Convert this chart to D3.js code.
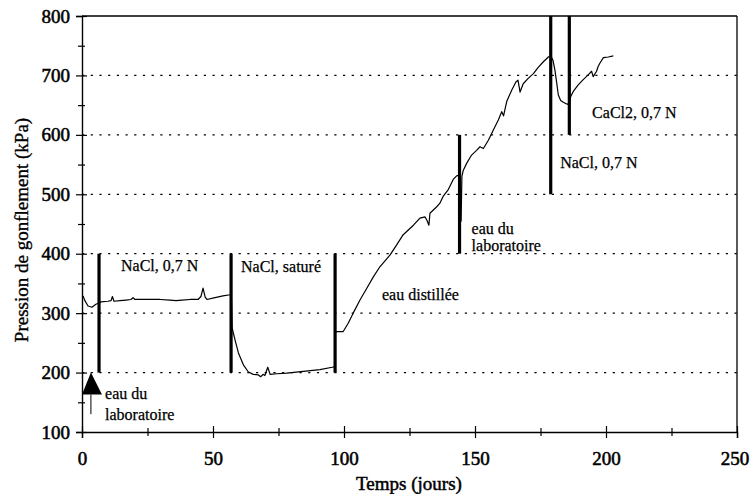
<!DOCTYPE html>
<html>
<head>
<meta charset="utf-8">
<script src="https://cdn.jsdelivr.net/npm/d3@7"></script>
<style>
  html, body { margin: 0; padding: 0; background: #fff; }
  svg { display: block; }
  text { font-family: "Liberation Serif", "DejaVu Serif", serif; fill: #000; }
</style>
</head>
<body>
<svg id="chart" width="750" height="494"></svg>
<script>
// Swelling pressure record (days, kPa), one array per test phase
const phaseA_days = [0.4, 1.1, 2.3, 3.8, 5.3, 6.5];
const phaseA_kpa  = [329, 321, 312, 310, 315, 317];

const phaseB_days = [6.6, 7.3, 9.9, 11.1, 11.6, 12.2, 14.5, 16.8, 18.7, 19.5, 20.2, 24, 29.8, 33.6, 35.9, 38.2, 41.2, 44.3, 45.4, 46.2, 47, 47.7, 50.8, 53.8, 56.5, 57];
const phaseB_kpa  = [317, 319, 320, 321, 328, 320, 321, 322, 323, 326, 323, 323, 323, 322, 321, 322, 323, 323, 328, 342, 327, 323, 326, 329, 331, 332];

const phaseC_days = [57, 57.3, 58.4, 59.7, 61.6, 63.5, 65.4, 67.3, 68.2, 69.1, 69.8, 70.9, 71.8, 74.3, 78.1, 84.5, 90.8, 95.5, 96.5];
const phaseC_kpa  = [332, 275, 255, 233, 213, 201, 197, 196, 193, 197, 195, 209, 197, 198, 199, 202, 205, 209, 210];

const phaseD_days = [96.6, 97.2, 99.7, 101.6, 103.5, 106.1, 108.7, 111.2, 113.7, 117.6, 120.1, 122.6, 126.5, 129, 130.9, 131.7, 132.4, 132.8, 135.4, 136.6, 137.9, 139.8, 141.7, 143, 143.7];
const phaseD_kpa  = [268, 269, 269, 283, 300, 322, 342, 361, 378, 398, 415, 432, 448, 460, 462, 456, 448, 468, 479, 485, 497, 508, 525, 531, 532];

const phaseE_days = [144.2, 144.7, 145, 145.5, 146.8, 148.7, 150.6, 151.9, 153.2, 155.1, 157, 158.9, 160.2, 160.9, 162.1, 164, 165.6, 166.4, 167.2, 168.4, 170.3, 172.3, 174.2, 176.1, 178, 178.8];
const phaseE_kpa  = [532, 455, 530, 540, 552, 566, 574, 580, 577, 591, 608, 625, 639, 632, 656, 675, 689, 692, 672, 686, 695, 703, 714, 723, 731, 733];

const phaseF_days = [178.9, 179.8, 180.5, 181.2, 181.8, 182.7, 183.7, 185, 185.9];
const phaseF_kpa  = [733, 725, 709, 687, 667, 658, 655, 652, 651];

const phaseG_days = [186, 186.5, 187.5, 189.4, 191.3, 193.2, 194.5, 195.1, 196.4, 197, 197.7, 199, 200.9, 202.8];
const phaseG_kpa  = [651, 664, 673, 684, 693, 701, 707, 698, 707, 715, 721, 730, 731, 733];

// Fluid change markers: day and vertical extent (kPa)
const changeDays = [6.5, 56.9, 96.6, 144.1, 178.9, 186];
const changeLow  = [200, 200, 200, 400, 500, 600];
const changeHigh = [400, 400, 400, 600, 800, 800];

// Phase labels
const labelText  = ["NaCl, 0,7 N", "NaCl, saturé", "eau distillée", "eau du", "laboratoire", "NaCl, 0,7 N", "CaCl2, 0,7 N", "eau du", "laboratoire"];
const labelDay   = [14.9, 60.7, 114.5, 148.7, 148.7, 182.5, 194.7, 8.8, 8.8];
const labelKpa   = [371, 369, 322, 434, 405, 544, 629, 156, 121];

// Axis ticks
const xTicks = [0, 50, 100, 150, 200, 250];
const xMinorTicks = [25, 75, 125, 175, 225];
const yTicks = [100, 200, 300, 400, 500, 600, 700, 800];
const yMinorTicks = [150, 250, 350, 450, 550, 650, 750];
const gridValues = [200, 300, 400, 500, 600, 700];

const svg = d3.select("#chart");
const x = d3.scaleLinear().domain([0, 250]).range([82, 737]);
const y = d3.scaleLinear().domain([100, 800]).range([432, 16]);

// Dotted horizontal guides
svg.append("g").selectAll("line").data(gridValues).join("line")
  .attr("x1", x(0)).attr("x2", x(250))
  .attr("y1", d => y(d)).attr("y2", d => y(d))
  .attr("stroke", "#000").attr("stroke-width", 1.2)
  .attr("stroke-dasharray", "2.2,6.5");

// Frame: top and right edges
svg.append("line").attr("x1", x(0)).attr("x2", x(250)).attr("y1", y(800)).attr("y2", y(800))
  .attr("stroke", "#000").attr("stroke-width", 1.3);
svg.append("line").attr("x1", x(250)).attr("x2", x(250)).attr("y1", y(800)).attr("y2", y(100))
  .attr("stroke", "#000").attr("stroke-width", 1.3);

// Axes with crossing ticks
const tickStyle = g => {
  g.select(".domain").attr("stroke-width", 1.4);
  g.selectAll(".tick line").attr("stroke-width", 1.2);
  g.selectAll("text").style("font-family", "'Liberation Serif', serif")
    .style("font-size", "19px").attr("stroke", "#000").attr("stroke-width", 0.55);
};

const xAxis = svg.append("g").attr("transform", `translate(0,${y(100)})`)
  .call(d3.axisBottom(x).tickValues(xTicks).tickSize(6).tickPadding(14).tickFormat(d3.format("d")));
xAxis.selectAll(".tick line").attr("y1", -6);
xAxis.call(tickStyle);
// keep the last label inside the page
xAxis.selectAll(".tick text").filter(d => d === 250).attr("dx", -2.5);
svg.append("g").attr("transform", `translate(0,${y(100)})`)
  .call(d3.axisBottom(x).tickValues(xMinorTicks).tickSize(4).tickFormat(""))
  .call(g => g.select(".domain").remove())
  .call(g => g.selectAll(".tick line").attr("y1", -4).attr("stroke-width", 1.2));

const yAxis = svg.append("g").attr("transform", `translate(${x(0)},0)`)
  .call(d3.axisLeft(y).tickValues(yTicks).tickSize(6).tickPadding(6).tickFormat(d3.format("d")));
yAxis.selectAll(".tick line").attr("x1", 5);
yAxis.call(tickStyle);
svg.append("g").attr("transform", `translate(${x(0)},0)`)
  .call(d3.axisLeft(y).tickValues(yMinorTicks).tickSize(4).tickFormat(""))
  .call(g => g.select(".domain").remove())
  .call(g => g.selectAll(".tick line").attr("x1", 3).attr("stroke-width", 1.2));

// Axis titles
svg.append("text").attr("x", 409).attr("y", 490).attr("text-anchor", "middle")
  .style("font-size", "19px").attr("stroke", "#000").attr("stroke-width", 0.5)
  .text("Temps (jours)");
svg.append("text").attr("transform", `translate(28,${(y(100) + y(800)) / 2 + 6}) rotate(-90)`)
  .attr("text-anchor", "middle")
  .style("font-size", "19px").attr("stroke", "#000").attr("stroke-width", 0.35)
  .text("Pression de gonflement (kPa)");

// Pressure curve, drawn phase by phase
const phases = [
  [phaseA_days, phaseA_kpa], [phaseB_days, phaseB_kpa], [phaseC_days, phaseC_kpa],
  [phaseD_days, phaseD_kpa], [phaseE_days, phaseE_kpa], [phaseF_days, phaseF_kpa],
  [phaseG_days, phaseG_kpa]
];
const line = d3.line().x(d => x(d[0])).y(d => y(d[1])).curve(d3.curveLinear);
svg.append("g").selectAll("path").data(phases).join("path")
  .attr("d", p => line(p[0].map((t, i) => [t, p[1][i]])))
  .attr("fill", "none").attr("stroke", "#000").attr("stroke-width", 1.2)
  .attr("stroke-linejoin", "round");

// Thick markers where the pore fluid was changed
svg.append("g").selectAll("line").data(changeDays).join("line")
  .attr("x1", d => x(d)).attr("x2", d => x(d))
  .attr("y1", (d, i) => y(changeHigh[i])).attr("y2", (d, i) => y(changeLow[i]))
  .attr("stroke", "#000").attr("stroke-width", 3.2);

// Arrow at the start of the test
const arrowDay = 3.4;
svg.append("path")
  .attr("d", `M${x(arrowDay)},${y(200)} L${x(7.6)},${y(163)} L${x(0)},${y(163)} Z`)
  .attr("fill", "#000");
svg.append("line").attr("x1", x(arrowDay)).attr("x2", x(arrowDay))
  .attr("y1", y(163)).attr("y2", y(130)).attr("stroke", "#000").attr("stroke-width", 1);

// Phase labels
svg.append("g").selectAll("text").data(labelText).join("text")
  .attr("x", (d, i) => x(labelDay[i])).attr("y", (d, i) => y(labelKpa[i]))
  .style("font-size", "16px").attr("stroke", "#000").attr("stroke-width", 0.25)
  .text(d => d);
</script>
</body>
</html>
